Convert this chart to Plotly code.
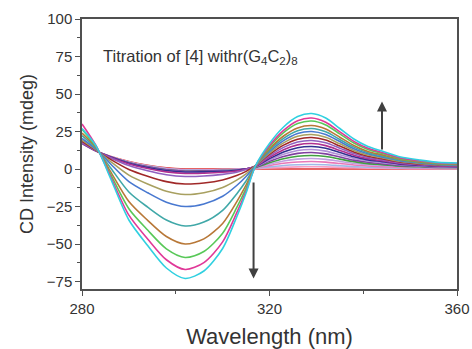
import plotly.graph_objects as go

wavelength = [280, 283, 286, 290, 294, 298, 302, 306, 310, 313, 315, 317, 320,
              323, 326, 329, 332, 335, 338, 341, 344, 348, 352, 356, 360]

c01 = [17, 12, 8.5, 5, 2.5, 0.8, 0, 0, 0, 0, 0, 0, 0, 0, 0, 0, 0, 0, 0, 0, 0, 0, 0, 0, 0]
c02 = [17.1, 12.0, 8.4, 4.7, 2.1, 0.3, -0.5, -0.5, -0.4, -0.2, -0.1, 0.2, 0.7, 1.1, 1.4, 1.5, 1.4, 1.1, 0.8, 0.6, 0.5, 0.3, 0.2, 0.2, 0.2]
c03 = [17.1, 12.0, 8.4, 4.7, 2.1, 0.3, -0.5, -0.5, -0.4, -0.2, 0.0, 0.4, 1.4, 2.3, 2.8, 3.0, 2.8, 2.2, 1.6, 1.2, 1.0, 0.6, 0.5, 0.4, 0.3]
c04 = [17.1, 12.0, 8.3, 4.5, 1.8, -0.1, -1.0, -0.9, -0.7, -0.4, 0.0, 0.6, 2.3, 3.8, 4.7, 5.0, 4.6, 3.7, 2.7, 2.0, 1.6, 1.1, 0.8, 0.6, 0.5]
c05 = [17.1, 12.0, 8.3, 4.5, 1.8, -0.1, -1.0, -0.9, -0.7, -0.4, 0.0, 0.8, 3.2, 5.3, 6.6, 7.0, 6.4, 5.1, 3.8, 2.8, 2.3, 1.5, 1.1, 0.8, 0.8]
c06 = [17.2, 12.1, 8.2, 4.2, 1.4, -0.6, -1.5, -1.4, -1.1, -0.7, 0.0, 1.0, 4.1, 6.8, 8.5, 9.0, 8.3, 6.6, 4.9, 3.6, 2.9, 1.9, 1.5, 1.1, 1.0]
c07 = [17.2, 12.1, 8.2, 4.2, 1.4, -0.6, -1.5, -1.4, -1.1, -0.7, 0.1, 1.3, 5.1, 8.3, 10.4, 11.0, 10.1, 8.0, 5.9, 4.5, 3.6, 2.4, 1.8, 1.3, 1.2]
c08 = [17.3, 12.1, 8.1, 3.9, 1.0, -1.0, -2.0, -1.9, -1.5, -0.9, 0.0, 1.5, 6.0, 9.8, 12.3, 13.0, 11.9, 9.5, 7.0, 5.3, 4.2, 2.8, 2.1, 1.6, 1.4]
c09 = [17.3, 12.1, 8.1, 3.9, 1.0, -1.0, -2.0, -1.9, -1.5, -0.9, 0.1, 1.7, 6.9, 11.4, 14.2, 15.0, 13.8, 11.0, 8.1, 6.1, 4.9, 3.2, 2.4, 1.8, 1.6]
c10 = [17.4, 12.1, 7.9, 3.4, 0.3, -1.9, -3.0, -2.8, -2.2, -1.3, 0.0, 1.9, 7.8, 12.9, 16.1, 17.0, 15.6, 12.4, 9.2, 6.9, 5.5, 3.7, 2.8, 2.0, 1.8]
c11 = [17.7, 12.2, 7.5, 2.3, -1.2, -3.8, -5.0, -4.7, -3.6, -2.2, -0.4, 2.1, 8.7, 14.4, 18.0, 19.0, 17.5, 13.9, 10.3, 7.7, 6.2, 4.1, 3.1, 2.3, 2.1]
c12 = [18.4, 12.5, 6.6, -0.3, -4.8, -8.4, -10.0, -9.3, -7.3, -4.4, -1.6, 2.2, 9.7, 15.9, 19.9, 21.0, 19.3, 15.3, 11.3, 8.5, 6.8, 4.5, 3.4, 2.5, 2.3]
c13 = [19.3, 12.8, 5.2, -4.1, -10.0, -14.8, -17.0, -15.8, -12.3, -7.4, -3.2, 2.2, 10.6, 17.4, 21.8, 23.0, 21.1, 16.8, 12.4, 9.3, 7.5, 5.0, 3.7, 2.8, 2.5]
c14 = [20.4, 13.2, 3.7, -8.4, -15.8, -22.1, -25.0, -23.3, -18.2, -11.0, -5.0, 2.2, 11.5, 18.9, 23.7, 25.0, 23.0, 18.3, 13.5, 10.1, 8.1, 5.4, 4.1, 3.0, 2.7]
c15 = [22.2, 13.8, 1.2, -15.3, -25.4, -34.0, -38.0, -35.4, -27.6, -16.6, -8.0, 2.0, 12.4, 20.4, 25.5, 27.0, 24.8, 19.7, 14.6, 10.9, 8.7, 5.8, 4.4, 3.2, 2.9]
c16 = [23.9, 14.4, -1.2, -21.7, -34.2, -45.0, -50.0, -46.6, -36.3, -21.9, -10.8, 1.8, 13.3, 22.0, 27.4, 29.0, 26.7, 21.2, 15.7, 11.7, 9.4, 6.3, 4.7, 3.5, 3.1]
c17 = [26.5, 14.8, -2.9, -26.5, -40.7, -53.2, -59.0, -55.0, -42.8, -25.8, -12.9, 1.9, 14.7, 24.2, 30.3, 32.0, 29.4, 23.4, 17.3, 13.0, 10.4, 6.9, 5.2, 3.8, 3.5]
c18 = [30.0, 15.5, -4.4, -30.8, -46.6, -60.5, -67.0, -62.4, -48.6, -29.3, -14.7, 1.9, 15.6, 25.7, 32.2, 34.0, 31.2, 24.8, 18.4, 13.8, 11.0, 7.3, 5.5, 4.1, 3.7]
c19 = [27.0, 15.4, -5.6, -34.0, -51.0, -66.0, -73.0, -68.0, -53.0, -32.0, -16.0, 2.0, 17.0, 28.0, 35.0, 37.0, 34.0, 27.0, 20.0, 15.0, 12.0, 8.0, 6.0, 4.4, 4.0]

series = [c01, c02, c03, c04, c05, c06, c07, c08, c09, c10,
          c11, c12, c13, c14, c15, c16, c17, c18, c19]
colors = ['#e03030', '#f5a0c8', '#a0b8e8', '#e878b8', '#c0a0e0', '#40a040',
          '#8040a0', '#b090d8', '#303090', '#b03090', '#9060c0', '#a02828',
          '#a8a060', '#4878d0', '#40a8a8', '#b87838', '#58c858', '#e03898',
          '#30d0e0']

x_ticks = [280, 320, 360]
y_ticks = [-75, -50, -25, 0, 25, 50, 75, 100]

fig = go.Figure()
for ys, col in zip(series, colors):
    fig.add_trace(go.Scatter(x=wavelength, y=ys, mode='lines',
                             line=dict(color=col, width=1.6, shape='spline', smoothing=0.8),
                             showlegend=False, hoverinfo='skip'))

axis_col = '#505050'
font_fam = 'Liberation Sans, Arial, sans-serif'

fig.update_layout(
    width=472, height=349,
    margin=dict(l=82, r=15, t=19, b=60, autoexpand=False),
    paper_bgcolor='white', plot_bgcolor='white',
    font=dict(family=font_fam, color='#333333'),
    xaxis=dict(range=[280, 360], tickvals=x_ticks, ticks='outside', ticklen=5,
               tickcolor=axis_col, showline=True, linecolor=axis_col, linewidth=1.5,
               mirror=True, showgrid=False, zeroline=False, automargin=False,
               tickfont=dict(size=15, color='#333333'),
               minor=dict(dtick=20, ticks='outside', ticklen=3, tickcolor=axis_col),
               title=dict(text='Wavelength (nm)', font=dict(size=22, color='#333333'), standoff=18)),
    yaxis=dict(range=[-80, 100], tickvals=y_ticks, ticks='outside', ticklen=5,
               tickcolor=axis_col, showline=True, linecolor=axis_col, linewidth=1.5,
               mirror=True, showgrid=False, zeroline=False, automargin=False,
               tickfont=dict(size=15, color='#333333'),
               minor=dict(dtick=12.5, tick0=0, ticks='outside', ticklen=3, tickcolor=axis_col),
               title=dict(text='CD Intensity (mdeg)', font=dict(size=18, color='#333333'), standoff=8)),
)

fig.add_annotation(x=284, y=75, xref='x', yref='y', xanchor='left', yanchor='middle',
                   text='Titration of [4] withr(G<sub>4</sub>C<sub>2</sub>)<sub>8</sub>',
                   showarrow=False, font=dict(size=16.5, color='#333333'))

fig.add_annotation(x=316.6, y=-73, ax=316.6, ay=-8, xref='x', yref='y', axref='x', ayref='y',
                   text='', showarrow=True, arrowhead=2, arrowsize=1, arrowwidth=2,
                   arrowcolor='#404040')
fig.add_annotation(x=344, y=45, ax=344, ay=12, xref='x', yref='y', axref='x', ayref='y',
                   text='', showarrow=True, arrowhead=2, arrowsize=1, arrowwidth=2,
                   arrowcolor='#404040')

fig.write_html('out.html')
